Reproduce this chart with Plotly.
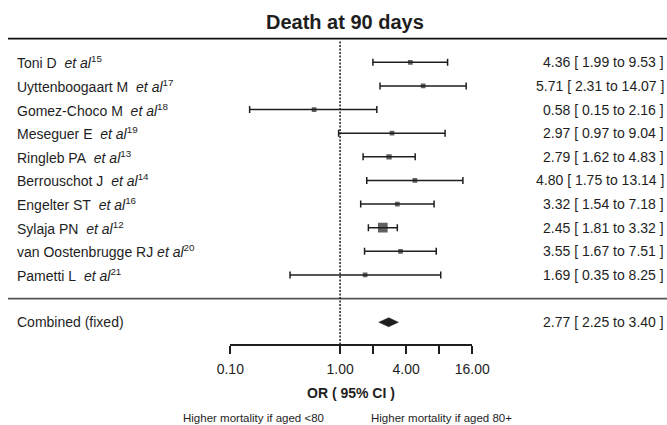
import plotly.graph_objects as go
import math

# ---------------- data ----------------
studies = ["Toni D", "Uyttenboogaart M", "Gomez-Choco M", "Meseguer E", "Ringleb PA",
           "Berrouschot J", "Engelter ST", "Sylaja PN", "van Oostenbrugge RJ", "Pametti L"]
refs = [15, 17, 18, 19, 13, 14, 16, 12, 20, 21]
or_vals = [4.36, 5.71, 0.58, 2.97, 2.79, 4.80, 3.32, 2.45, 3.55, 1.69]
ci_lo = [1.99, 2.31, 0.15, 0.97, 1.62, 1.75, 1.54, 1.81, 1.67, 0.35]
ci_hi = [9.53, 14.07, 2.16, 9.04, 4.83, 13.14, 7.18, 3.32, 7.51, 8.25]
comb_label = "Combined (fixed)"
comb_or, comb_lo, comb_hi = 2.77, 2.25, 3.40
tick_vals = [0.1, 1, 2, 4, 8, 16]
tick_text = ["0.10", "1.00", "", "4.00", "", "16.00"]
title = "Death at 90 days"
axis_title = "OR ( 95% CI )"
left_note = "Higher mortality if aged &lt;80"
right_note = "Higher mortality if aged 80+"

# ---------------- layout helpers ----------------
W, H = 667, 425
ROW0, ROWH = 62.3, 23.63           # pixel centre of first row, row pitch
FONT = "Liberation Sans, Arial, Helvetica, sans-serif"
INK = "#1e1e1e"
LBL = 14

def py(pix):  # pixel y -> paper y
    return 1 - pix / H

def px(pix):
    return pix / W

rows = list(range(len(studies)))
sep_row = len(studies)
comb_row = len(studies) + 1
axis_row = len(studies) + 2

# marker size from precision (1/SE)
prec = [3.92 / (math.log(h) - math.log(l)) for l, h in zip(ci_lo, ci_hi)]
pmax = max(prec)
sizes = [max(4.7, 9.7 * p / pmax) for p in prec]

fig = go.Figure()

fig.add_trace(go.Scatter(
    x=or_vals, y=rows, mode="markers",
    marker=dict(symbol="square", size=sizes, color=INK, line=dict(width=0)),
    error_x=dict(type="data", symmetric=False,
                 array=[h - o for h, o in zip(ci_hi, or_vals)],
                 arrayminus=[o - l for o, l in zip(or_vals, ci_lo)],
                 color=INK, thickness=1.5, width=3.5),
    hoverinfo="skip", showlegend=False))

dh = 0.19
fig.add_trace(go.Scatter(
    x=[comb_lo, comb_or, comb_hi, comb_or, comb_lo],
    y=[comb_row, comb_row - dh, comb_row, comb_row + dh, comb_row],
    mode="lines", fill="toself", fillcolor=INK, line=dict(color=INK, width=0.5),
    hoverinfo="skip", showlegend=False))

shapes = [
    dict(type="line", xref="paper", yref="y", x0=px(8), x1=1, y0=-1, y1=-1,
         line=dict(color="#111", width=1.6)),
    dict(type="line", xref="paper", yref="y", x0=px(8), x1=1, y0=sep_row, y1=sep_row,
         line=dict(color="#555", width=1.6)),
    dict(type="line", xref="x", yref="y", x0=1, x1=1, y0=-0.88, y1=axis_row,
         line=dict(color=INK, width=1.5, dash="2px,1.5px")),
]

ann = []
ann.append(dict(text="<b>%s</b>" % title, x=px(345), y=py(22), xref="paper", yref="paper",
                xanchor="center", yanchor="middle", showarrow=False,
                font=dict(family=FONT, size=20, color=INK)))
sep_map = {"van Oostenbrugge RJ": " "}
for i, (s, r) in enumerate(zip(studies, refs)):
    gap = sep_map.get(s, "\u00a0\u00a0")
    ann.append(dict(text="%s%s<i>et al</i><sup>%d</sup>" % (s, gap, r),
                    x=px(14.5), y=i, xref="paper", yref="y", xanchor="left", yanchor="middle",
                    showarrow=False, font=dict(family=FONT, size=LBL, color=INK)))
    ann.append(dict(text="%.2f [ %.2f to %.2f ]" % (or_vals[i], ci_lo[i], ci_hi[i]),
                    x=px(665.5), y=i, xref="paper", yref="y", xanchor="right", yanchor="middle",
                    showarrow=False, font=dict(family=FONT, size=LBL, color=INK)))
ann.append(dict(text=comb_label, x=px(14.5), y=comb_row, xref="paper", yref="y",
                xanchor="left", yanchor="middle", showarrow=False,
                font=dict(family=FONT, size=LBL, color=INK)))
ann.append(dict(text="%.2f [ %.2f to %.2f ]" % (comb_or, comb_lo, comb_hi),
                x=px(665.5), y=comb_row, xref="paper", yref="y", xanchor="right", yanchor="middle",
                showarrow=False, font=dict(family=FONT, size=LBL, color=INK)))
ann.append(dict(text="<b>%s</b>" % axis_title, x=px(351), y=py(393), xref="paper", yref="paper",
                xanchor="center", yanchor="middle", showarrow=False,
                font=dict(family=FONT, size=14, color=INK)))
ann.append(dict(text=left_note, x=px(253), y=py(418), xref="paper", yref="paper",
                xanchor="center", yanchor="middle", showarrow=False,
                font=dict(family=FONT, size=11.5, color=INK)))
ann.append(dict(text=right_note, x=px(441), y=py(418), xref="paper", yref="paper",
                xanchor="center", yanchor="middle", showarrow=False,
                font=dict(family=FONT, size=11.5, color=INK)))

y_top = -ROW0 / ROWH
y_bot = (H - ROW0) / ROWH
axis_pix = 345.2

fig.update_layout(
    width=W, height=H, margin=dict(l=0, r=0, t=0, b=0, pad=0, autoexpand=False),
    paper_bgcolor="white", plot_bgcolor="white",
    xaxis=dict(type="log", domain=[px(230.3), px(472.3)],
               range=[math.log10(tick_vals[0]), math.log10(tick_vals[-1])],
               tickvals=tick_vals, ticktext=tick_text, ticks="outside", ticklen=8,
               tickwidth=1.5, tickcolor=INK, showline=True, linecolor=INK, linewidth=1.5,
               showgrid=False, zeroline=False, anchor="free", position=py(axis_pix),
               automargin=False, ticklabelstandoff=3,
               tickfont=dict(family=FONT, size=14, color=INK)),
    yaxis=dict(range=[y_bot, y_top], domain=[0, 1], visible=False, automargin=False,
               showgrid=False, zeroline=False),
    shapes=shapes, annotations=ann, showlegend=False,
)

fig.write_html("out.html")
